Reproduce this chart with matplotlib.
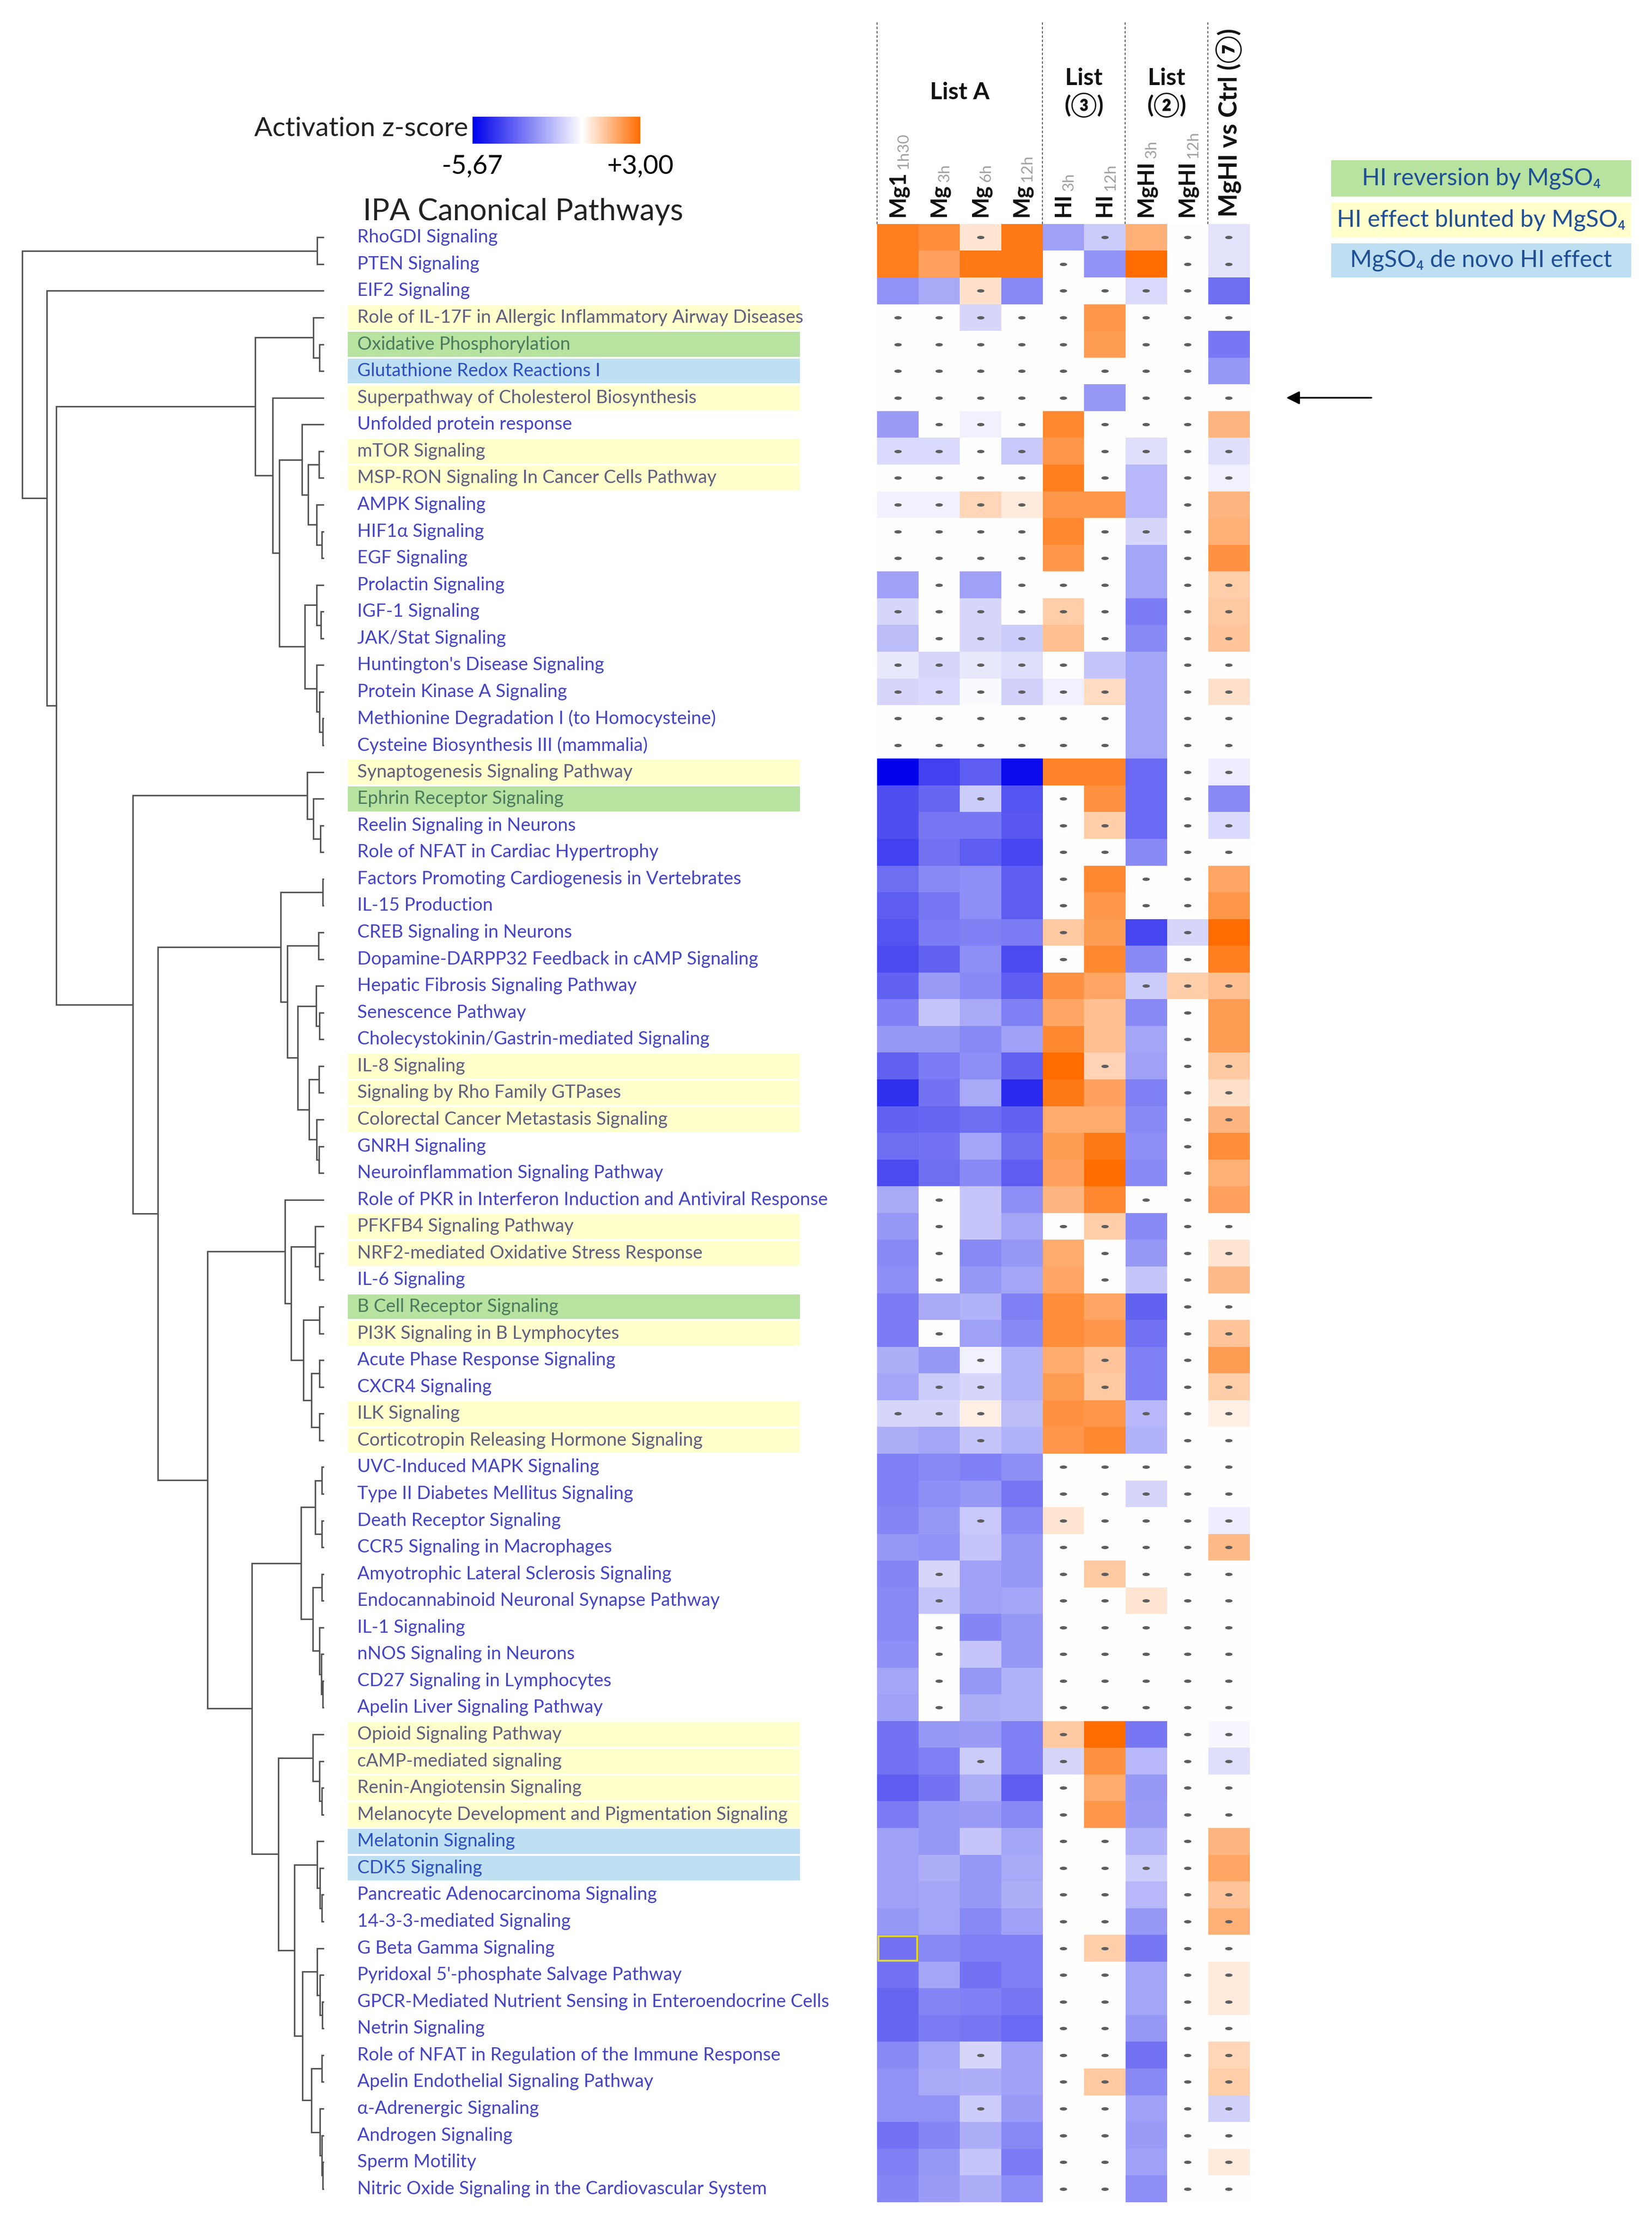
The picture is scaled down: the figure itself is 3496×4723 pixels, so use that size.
import numpy as np
import matplotlib
matplotlib.use('Agg')
import matplotlib.pyplot as plt
import matplotlib.transforms as mtransforms
from matplotlib.colors import LinearSegmentedColormap, Normalize
from matplotlib.patches import Rectangle

plt.rcParams['font.family'] = ['Lato', 'DejaVu Sans']

W, H = 3496, 4723
DPI = 100

# ---------------- data ----------------
pathways = [
    "RhoGDI Signaling", "PTEN Signaling", "EIF2 Signaling",
    "Role of IL-17F in Allergic Inflammatory Airway Diseases",
    "Oxidative Phosphorylation", "Glutathione Redox Reactions I",
    "Superpathway of Cholesterol Biosynthesis", "Unfolded protein response",
    "mTOR Signaling", "MSP-RON Signaling In Cancer Cells Pathway",
    "AMPK Signaling", "HIF1α Signaling", "EGF Signaling", "Prolactin Signaling",
    "IGF-1 Signaling", "JAK/Stat Signaling", "Huntington's Disease Signaling",
    "Protein Kinase A Signaling", "Methionine Degradation I (to Homocysteine)",
    "Cysteine Biosynthesis III (mammalia)", "Synaptogenesis Signaling Pathway",
    "Ephrin Receptor Signaling", "Reelin Signaling in Neurons",
    "Role of NFAT in Cardiac Hypertrophy",
    "Factors Promoting Cardiogenesis in Vertebrates", "IL-15 Production",
    "CREB Signaling in Neurons", "Dopamine-DARPP32 Feedback in cAMP Signaling",
    "Hepatic Fibrosis Signaling Pathway", "Senescence Pathway",
    "Cholecystokinin/Gastrin-mediated Signaling", "IL-8 Signaling",
    "Signaling by Rho Family GTPases", "Colorectal Cancer Metastasis Signaling",
    "GNRH Signaling", "Neuroinflammation Signaling Pathway",
    "Role of PKR in Interferon Induction and Antiviral Response",
    "PFKFB4 Signaling Pathway", "NRF2-mediated Oxidative Stress Response",
    "IL-6 Signaling", "B Cell Receptor Signaling", "PI3K Signaling in B Lymphocytes",
    "Acute Phase Response Signaling", "CXCR4 Signaling", "ILK Signaling",
    "Corticotropin Releasing Hormone Signaling", "UVC-Induced MAPK Signaling",
    "Type II Diabetes Mellitus Signaling", "Death Receptor Signaling",
    "CCR5 Signaling in Macrophages", "Amyotrophic Lateral Sclerosis Signaling",
    "Endocannabinoid Neuronal Synapse Pathway", "IL-1 Signaling",
    "nNOS Signaling in Neurons", "CD27 Signaling in Lymphocytes",
    "Apelin Liver Signaling Pathway", "Opioid Signaling Pathway",
    "cAMP-mediated signaling", "Renin-Angiotensin Signaling",
    "Melanocyte Development and Pigmentation Signaling", "Melatonin Signaling",
    "CDK5 Signaling", "Pancreatic Adenocarcinoma Signaling",
    "14-3-3-mediated Signaling", "G Beta Gamma Signaling",
    "Pyridoxal 5'-phosphate Salvage Pathway",
    "GPCR-Mediated Nutrient Sensing in Enteroendocrine Cells", "Netrin Signaling",
    "Role of NFAT in Regulation of the Immune Response",
    "Apelin Endothelial Signaling Pathway", "α-Adrenergic Signaling",
    "Androgen Signaling", "Sperm Motility",
    "Nitric Oxide Signaling in the Cardiovascular System",
]

hi_reversion = ["Oxidative Phosphorylation", "Ephrin Receptor Signaling",
                "B Cell Receptor Signaling"]
hi_blunted = ["Role of IL-17F in Allergic Inflammatory Airway Diseases",
              "Superpathway of Cholesterol Biosynthesis", "mTOR Signaling",
              "MSP-RON Signaling In Cancer Cells Pathway",
              "Synaptogenesis Signaling Pathway", "IL-8 Signaling",
              "Signaling by Rho Family GTPases",
              "Colorectal Cancer Metastasis Signaling", "PFKFB4 Signaling Pathway",
              "NRF2-mediated Oxidative Stress Response",
              "PI3K Signaling in B Lymphocytes", "ILK Signaling",
              "Corticotropin Releasing Hormone Signaling", "Opioid Signaling Pathway",
              "cAMP-mediated signaling", "Renin-Angiotensin Signaling",
              "Melanocyte Development and Pigmentation Signaling"]
de_novo = ["Glutathione Redox Reactions I", "Melatonin Signaling", "CDK5 Signaling"]

col_main = ['Mg1', 'Mg', 'Mg', 'Mg', 'HI', 'HI', 'MgHI', 'MgHI', 'MgHI vs Ctrl (⑦)']
col_sub = ['1h30', '3h', '6h', '12h', '3h', '12h', '3h', '12h', '']
groups = [('List A', 0, 3), ('List\n(③)', 4, 5), ('List\n(②)', 6, 7)]

# activation z-scores: Mg1, Mg3h, Mg6h, Mg12h, HI3h, HI12h, MgHI3h, MgHI12h, MgHI vs Ctrl
z_scores = [
    [2.6, 2.3, 0.5, 2.7, -2.1, -1.1, 1.6, 0, -0.6],
    [2.6, 1.9, 2.7, 2.7, 0, -2.4, 3.0, 0, -0.6],
    [-2.4, -1.9, 0.6, -2.6, 0, 0, -0.8, 0, -3.2],
    [0, 0, -0.9, 0, 0, 2.1, 0, 0, 0],
    [0, 0, 0, 0, 0, 2.0, 0, 0, -3.0],
    [0, 0, 0, 0, 0, 0, 0, 0, -2.3],
    [0, 0, 0, 0, 0, -2.3, 0, 0, 0],
    [-2.2, 0, -0.3, 0, 2.4, 0, 0, 0, 1.5],
    [-0.8, -0.8, 0, -1.2, 2.1, 0, -0.7, 0, -0.7],
    [0, 0, 0, 0, 2.6, 0, -1.6, 0, -0.3],
    [-0.3, -0.3, 0.8, 0.4, 2.1, 2.1, -1.6, 0, 1.5],
    [0, 0, 0, 0, 2.4, 0, -0.9, 0, 1.6],
    [0, 0, 0, 0, 2.1, 0, -2.0, 0, 2.2],
    [-2.1, 0, -2.1, 0, 0, 0, -2.0, 0, 1.0],
    [-0.9, 0, -0.9, 0, 1.0, 0, -2.9, 0, 1.1],
    [-1.5, 0, -0.9, -1.1, 1.3, 0, -2.6, 0, 1.2],
    [-0.5, -0.9, -0.5, -0.7, 0, -1.3, -2.0, 0, 0],
    [-0.9, -0.8, -0.1, -1.0, -0.3, 0.7, -2.0, 0, 0.6],
    [0, 0, 0, 0, 0, 0, -2.0, 0, 0],
    [0, 0, 0, 0, 0, 0, -2.0, 0, 0],
    [-5.6, -4.2, -3.6, -5.4, 2.5, 2.5, -3.3, 0, -0.4],
    [-3.9, -3.4, -1.1, -3.8, 0, 2.2, -3.3, 0, -2.6],
    [-3.9, -3.0, -3.0, -3.7, 0, 1.0, -3.3, 0, -0.8],
    [-4.2, -3.1, -3.6, -4.1, 0, 0, -2.6, 0, 0],
    [-3.2, -2.6, -2.5, -3.6, 0, 2.4, 0, 0, 1.8],
    [-3.6, -3.0, -2.5, -3.6, 0, 2.1, 0, 0, 2.1],
    [-3.8, -2.9, -2.8, -2.9, 1.1, 2.0, -4.1, -0.9, 3.0],
    [-4.0, -3.5, -2.5, -4.0, 0, 2.4, -2.6, 0, 2.6],
    [-3.5, -2.2, -2.6, -3.6, 2.2, 1.8, -1.1, 1.0, 1.3],
    [-2.8, -1.3, -1.9, -2.8, 1.8, 1.3, -2.6, 0, 2.0],
    [-2.3, -2.3, -2.6, -2.1, 2.4, 1.3, -2.0, 0, 2.0],
    [-3.5, -2.9, -2.5, -3.5, 3.0, 0.9, -2.1, 0, 1.1],
    [-4.6, -3.1, -1.9, -4.7, 2.7, 1.9, -2.8, 0, 0.6],
    [-3.5, -3.4, -3.2, -3.5, 1.7, 1.7, -2.6, 0, 1.5],
    [-3.2, -3.1, -2.0, -3.2, 2.0, 2.7, -2.5, 0, 2.3],
    [-4.0, -3.2, -2.6, -3.6, 1.9, 3.0, -2.6, 0, 1.6],
    [-1.9, 0, -1.3, -2.5, 1.5, 2.4, 0, 0, 1.9],
    [-2.3, 0, -1.3, -2.0, 0, 1.0, -2.6, 0, 0],
    [-2.6, 0, -2.6, -2.3, 1.7, 0, -2.3, 0, 0.5],
    [-2.5, 0, -2.3, -2.0, 1.8, 0, -1.3, 0, 1.4],
    [-2.9, -1.9, -1.7, -2.8, 2.3, 1.8, -3.5, 0, 0],
    [-2.9, 0, -2.1, -2.6, 2.3, 2.1, -3.1, 0, 1.2],
    [-1.8, -2.3, -0.3, -1.7, 1.7, 1.2, -2.8, 0, 2.0],
    [-2.0, -1.1, -0.9, -1.7, 2.0, 1.1, -2.8, 0, 1.0],
    [-0.9, -0.9, 0.3, -1.5, 2.2, 2.1, -1.6, 0, 0.3],
    [-1.8, -2.0, -1.3, -1.7, 2.1, 2.4, -1.7, 0, 0],
    [-2.8, -2.6, -2.8, -2.5, 0, 0, 0, 0, 0],
    [-2.8, -2.5, -2.3, -3.0, 0, 0, -0.9, 0, 0],
    [-2.7, -2.3, -1.2, -2.6, 0.5, 0, 0, 0, -0.4],
    [-2.3, -2.4, -1.3, -2.3, 0, 0, 0, 0, 1.4],
    [-2.7, -0.9, -2.1, -2.3, 0, 1.1, 0, 0, 0],
    [-2.6, -1.3, -2.1, -2.0, 0, 0, 0.5, 0, 0],
    [-2.6, 0, -2.7, -2.3, 0, 0, 0, 0, 0],
    [-2.5, 0, -1.3, -2.3, 0, 0, 0, 0, 0],
    [-2.0, 0, -2.3, -1.7, 0, 0, 0, 0, 0],
    [-2.1, 0, -1.8, -1.7, 0, 0, 0, 0, 0],
    [-3.1, -2.3, -2.2, -2.8, 1.1, 3.0, -3.0, 0, -0.2],
    [-3.1, -2.8, -1.1, -2.8, -0.9, 2.2, -1.6, 0, -0.7],
    [-3.6, -3.1, -1.8, -3.6, 0, 1.7, -2.3, 0, 0],
    [-2.9, -2.3, -2.2, -2.6, 0, 2.1, -2.2, 0, 0],
    [-2.1, -2.3, -1.3, -2.0, 0, 0, -1.7, 0, 1.5],
    [-2.1, -1.8, -2.3, -1.9, 0, 0, -1.1, 0, 1.8],
    [-2.1, -2.0, -2.3, -1.8, 0, 0, -1.6, 0, 1.2],
    [-2.3, -2.0, -2.6, -2.1, 0, 0, -2.3, 0, 1.6],
    [-3.1, -2.6, -2.8, -2.8, 0, 1.0, -3.0, 0, 0],
    [-3.1, -2.0, -3.1, -2.8, 0, 0, -2.0, 0, 0.4],
    [-3.4, -2.7, -2.8, -3.0, 0, 0, -2.0, 0, 0.4],
    [-3.4, -2.9, -3.0, -3.3, 0, 0, -2.3, 0, 0],
    [-2.6, -2.0, -0.9, -2.1, 0, 0, -3.1, 0, 0.8],
    [-2.4, -1.9, -1.8, -2.1, 0, 1.1, -2.6, 0, 1.0],
    [-2.4, -2.4, -1.1, -2.2, 0, 0, -2.1, 0, -1.0],
    [-3.1, -2.7, -1.8, -2.6, 0, 0, -2.2, 0, 0],
    [-2.8, -2.3, -1.3, -2.9, 0, 0, -2.1, 0, 0.4],
    [-2.7, -2.2, -1.8, -2.5, 0, 0, -2.5, 0, 0],
]

# '1' = dot (not significant) in that cell
dots = [
    "001001011", "000010011", "001011110", "111110111", "111110110",
    "111111110", "111110111", "011101110", "111101111", "111101011",
    "111100010", "111101110", "111101010", "010111011", "111111011",
    "011101011", "111110011", "111111011", "111111011", "111111011",
    "000000011", "001010010", "000011011", "000011011", "000010110",
    "000010110", "000010010", "000010010", "000000111", "000000010",
    "000000010", "000001011", "000000011", "000000011", "000000010",
    "000000010", "010000110", "010011011", "010001011", "010001010",
    "000000011", "010000011", "001001010", "011001011", "111000111",
    "001000011", "000011111", "000011111", "001011111", "000011111",
    "010011111", "010011111", "010011111", "010011111", "010011111",
    "010011111", "000010011", "001010011", "000010011", "000010011",
    "000011010", "000011110", "000011011", "000011011", "000011011",
    "000011011", "000011011", "000011011", "001011011", "000011011",
    "001011011", "000011011", "000011011", "000011011",
]

boxed_cell = ("G Beta Gamma Signaling", 0)
arrow_row = "Superpathway of Cholesterol Biosynthesis"

# row clustering: [height, left, right], leaves are row indices
clu_upper = [146, [23, 3, [10, 4, 5]],
             [109, 6,
              [95,
               [47, 7, [34, [11, 8, 9], [16, 10, [5, 11, 12]]]],
               [41, [16, 13, [7, 14, 15]], [16, 16, [10, 17, [3, 18, 19]]]]]]]
clu_o = [36, 20, [23, 21, [8, 22, 23]]]
clu_s = [92, [3, 24, 25],
         [78, [12, 26, 27],
          [56, [17, 28, [10, 29, 30]], [32, [11, 31, 32], [16, 33, [11, 34, 35]]]]]]
clu_aa = [83, 36, [70, [19, 37, [10, 38, 39]],
                   [44, [10, 40, 41], [27, [10, 42, 43], [10, 44, 45]]]]]
clu_af = [49, [19, [5, 46, 47], [5, 48, 49]],
          [24, [5, 50, 51], [10, 52, [6, 53, [3, 54, 55]]]]]
clu_ak = [97, [24, 56, [10, 57, [5, 58, 59]]],
          [63, [15, 60, [9, 61, [5, 62, 63]]],
           [46, [15, 64, [9, 65, [4, 66, 67]]],
            [27, [5, 68, 69], [9, 70, [5, 71, [3, 72, 73]]]]]]]
clu_lower = [405, clu_o, [352, clu_s, [247, clu_aa, [153, clu_af, clu_ak]]]]
tree = [639, [15, 0, 1], [587, 2, [567, clu_upper, clu_lower]]]

# ---------------- layout helpers ----------------
def rect(l, t, r, b):
    return [l / W, 1 - b / H, (r - l) / W, (b - t) / H]

HM_TOP, HM_BOT = 474, 4660

fig = plt.figure(figsize=(W / DPI, H / DPI), dpi=DPI)

z = np.array(z_scores)
n_rows, n_cols = z.shape

cmap = LinearSegmentedColormap.from_list(
    'ipa', [(0.0, '#0000eb'), (5.67 / 8.67, '#ffffff'), (1.0, '#ff6c00')])
norm = Normalize(vmin=-5.67, vmax=3.0)

# ---------------- heatmap ----------------
ax = fig.add_axes(rect(1856, HM_TOP, 2644, HM_BOT))
im = ax.imshow(z, cmap=cmap, norm=norm, aspect='auto', interpolation='nearest')
ax.set_xlim(-0.5, n_cols - 0.5)
ax.set_ylim(n_rows - 0.5, -0.5)
ax.axis('off')

dot_r, dot_c = [], []
for i, s in enumerate(dots):
    for j, ch in enumerate(s):
        if ch == '1':
            dot_r.append(i)
            dot_c.append(j)
t = np.linspace(0, 2 * np.pi, 40)
ellipse = np.column_stack([np.cos(t), 0.45 * np.sin(t)])
ax.scatter(dot_c, dot_r, marker=ellipse, s=125, color='#5e5e5e', linewidths=0, zorder=3)

br = pathways.index(boxed_cell[0])
ax.add_patch(Rectangle((boxed_cell[1] - 0.47, br - 0.46), 0.94, 0.92, fill=False,
                       ec='#e2d52a', lw=3, zorder=4))

# column separators
for x in [-0.5, 3.5, 5.5, 7.5]:
    ax.axvline(x, ymin=1.0, ymax=1.0 + (HM_TOP - 45) / (HM_BOT - HM_TOP),
               clip_on=False, color='#333333', lw=1.2, ls=(0, (3, 2.5)))

# column headers
for j, (m, s) in enumerate(zip(col_main, col_sub)):
    fs = 38 if j == n_cols - 1 else 34
    txt = ax.annotate(m, xy=(j, -0.5), xytext=(0, 11), textcoords='offset points',
                      rotation=90, ha='center', va='bottom', fontsize=fs,
                      fontweight='bold', color='#111111', annotation_clip=False)
    if s:
        ax.annotate(s, xy=(0.78, 1.0), xycoords=txt, xytext=(0, 3),
                    textcoords='offset points', rotation=90, ha='center',
                    va='bottom', fontsize=24, color='#a0a0a0')

tr = mtransforms.blended_transform_factory(ax.transData, fig.transFigure)
for name, a, b in groups:
    ax.text((a + b) / 2, 1 - 196 / H, name, transform=tr, ha='center', va='center',
            fontsize=36, fontweight='bold', linespacing=1.2, color='#111111')

# arrow pointing at row
ar = pathways.index(arrow_row)
ax.annotate('', xy=(9.36, ar), xytext=(11.48, ar), annotation_clip=False,
            arrowprops=dict(arrowstyle='-|>', color='black', lw=2.5, mutation_scale=42))

# ---------------- labels ----------------
lax = fig.add_axes(rect(736, HM_TOP, 1693, HM_BOT))
lax.set_xlim(0, 1)
lax.set_ylim(n_rows - 0.5, -0.5)
lax.axis('off')
styles = {'green': ('#b7e2a0', '#4a7a5e'), 'yellow': ('#ffffcc', '#5e5e80'),
          'blue': ('#bfdff2', '#2b4fc0'), None: (None, '#4444c2')}
for i, name in enumerate(pathways):
    cat = ('green' if name in hi_reversion else 'yellow' if name in hi_blunted
           else 'blue' if name in de_novo else None)
    bg, fg = styles[cat]
    if bg:
        lax.barh(i, 1.0, left=0, height=0.93, color=bg, lw=0)
    lax.text(0.021, i, name, va='center', ha='left', fontsize=27.8, color=fg)

fig.text(768 / W, 1 - 448 / H, 'IPA Canonical Pathways', ha='left', va='center',
         fontsize=46, color='#222222')

# ---------------- dendrogram ----------------
dax = fig.add_axes(rect(36, HM_TOP, 686, HM_BOT))
dax.set_xlim(650, 0)
dax.set_ylim(n_rows - 0.5, -0.5)
dax.axis('off')


def draw(node):
    if isinstance(node, int):
        return float(node), 0.0
    h, a, b = node
    ya, ha = draw(a)
    yb, hb = draw(b)
    dax.plot([ha, h, h, hb], [ya, ya, yb, yb], color='#555555', lw=2.3,
             solid_joinstyle='miter')
    return (ya + yb) / 2, h


draw(tree)

# ---------------- colorbar ----------------
cax = fig.add_axes(rect(1000, 247, 1355, 304))
cb = fig.colorbar(im, cax=cax, orientation='horizontal')
cb.set_ticks([-5.67, 3.0])
cb.set_ticklabels(['-5,67', '+3,00'])
cb.outline.set_visible(False)
cax.tick_params(length=0, labelsize=40, pad=16)
fig.text(991 / W, 1 - 272 / H, 'Activation z-score', ha='right', va='center',
         fontsize=41, color='#222222')

# ---------------- category legend ----------------
legend_items = [('HI reversion by MgSO₄', '#b7e2a0', 339, 416),
                ('HI effect blunted by MgSO₄', '#ffffcc', 428, 503),
                ('MgSO₄ de novo HI effect', '#bedff2', 515, 587)]
for text, c, top, bot in legend_items:
    fig.add_artist(Rectangle((2817 / W, 1 - bot / H), (3452 - 2817) / W, (bot - top) / H,
                             transform=fig.transFigure, color=c, lw=0))
    fig.text((2817 + 3452) / 2 / W, 1 - (top + bot) / 2 / H, text, ha='center',
             va='center', fontsize=36, color='#1f4f96')

fig.savefig('out.png', dpi=DPI)
